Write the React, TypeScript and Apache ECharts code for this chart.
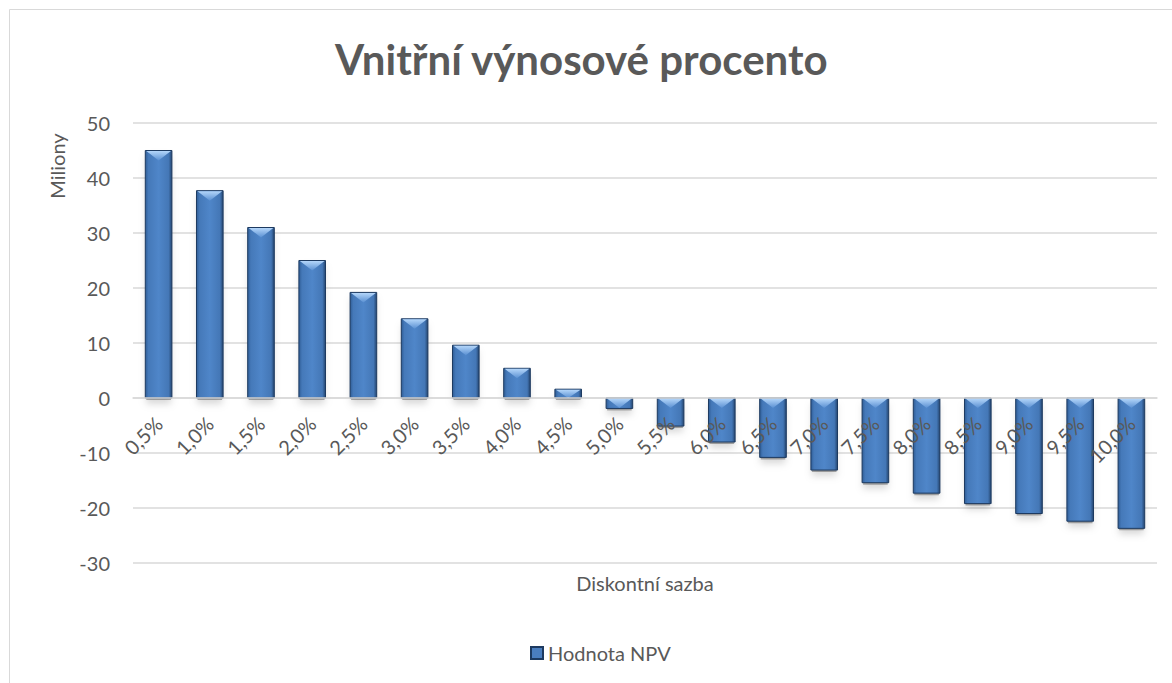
import React, { useEffect, useRef } from "react";
import * as echarts from "echarts";

const titleText = "Vnitřní výnosové procento";
const xAxisTitle = "Diskontní sazba";
const yAxisTitle = "Miliony";
const seriesName = "Hodnota NPV";

const categories = [
  "0,5%", "1,0%", "1,5%", "2,0%", "2,5%", "3,0%", "3,5%", "4,0%", "4,5%", "5,0%",
  "5,5%", "6,0%", "6,5%", "7,0%", "7,5%", "8,0%", "8,5%", "9,0%", "9,5%", "10,0%",
];
const npvValues = [
  45.0, 37.7, 31.0, 25.0, 19.2, 14.4, 9.6, 5.4, 1.6, -1.9,
  -5.1, -8.0, -10.8, -13.1, -15.4, -17.3, -19.2, -21.0, -22.4, -23.7,
];
const yMin = -30;
const yMax = 50;
const yStep = 10;

const FONT = "Lato";
const TEXT = "#595959";
const GRID = "#d9d9d9";

const GRID_TOP = 123;
const GRID_BOTTOM = 120;
const PLOT_H = 683 - GRID_TOP - GRID_BOTTOM;
// lift the category axis from the bottom edge up to the value 0 line
const zeroOffset = -PLOT_H * (0 - yMin) / (yMax - yMin);

const renderBar = (_params: any, api: any) => {
  const idx = api.value(0);
  const val = api.value(1);
  const a = api.coord([idx, 0]);
  const b = api.coord([idx, val]);
  const bw = api.size([1, 0])[0] * 0.52;
  const x = a[0] - bw / 2;
  const top = Math.min(a[1], b[1]);
  const h = Math.abs(a[1] - b[1]);
  const bev = Math.min(10, h);
  return {
    type: "group",
    children: [
      {
        type: "rect",
        silent: true,
        shape: { x: x + 1, y: top + 2, width: bw - 2, height: h },
        style: {
          fill: "rgba(0,0,0,0.3)",
          shadowBlur: 7,
          shadowColor: "rgba(0,0,0,0.5)",
          shadowOffsetY: 4,
        },
      },
      {
        type: "rect",
        shape: { x, y: top, width: bw, height: h },
        style: {
          fill: new echarts.graphic.LinearGradient(0, 0, 1, 0, [
            { offset: 0, color: "#2f5d96" },
            { offset: 0.12, color: "#4579b9" },
            { offset: 0.5, color: "#4f86c9" },
            { offset: 0.88, color: "#4477b6" },
            { offset: 1, color: "#24456f" },
          ]),
          stroke: "#1d3a60",
          lineWidth: 1,
        },
      },
      {
        type: "polygon",
        silent: true,
        shape: {
          points: [
            [x + 1, top + 0.5],
            [x + bw - 1, top + 0.5],
            [x + bw / 2, top + bev],
          ],
        },
        style: {
          fill: new echarts.graphic.LinearGradient(0, 0, 0, 1, [
            { offset: 0, color: "#b4d6fa" },
            { offset: 1, color: "#5a90d2" },
          ]),
        },
      },
    ],
  };
};

export default function App() {
  const ref = useRef<HTMLDivElement>(null);
  useEffect(() => {
    document.body.style.margin = "0";
    const chart = echarts.init(ref.current!, null, { renderer: "svg" });
    chart.setOption({
      animation: false,
      backgroundColor: "#ffffff",
      title: {
        text: titleText,
        left: 330,
        top: 33,
        textStyle: { fontFamily: FONT, fontWeight: "bold", fontSize: 42, color: TEXT },
      },
      legend: {
        left: 525,
        top: 638,
        icon: "rect",
        itemWidth: 12,
        itemHeight: 12,
        textStyle: { fontFamily: FONT, fontSize: 20, color: TEXT },
        data: [seriesName],
      },
      grid: { left: 133, right: 15, top: GRID_TOP, bottom: GRID_BOTTOM, containLabel: false },
      xAxis: {
        type: "category",
        data: categories,
        position: "bottom",
        offset: zeroOffset,
        z: 10,
        axisLine: { onZero: false, lineStyle: { color: GRID, width: 1.5 } },
        axisTick: { show: false },
        axisLabel: {
          rotate: 45,
          margin: 22,
          interval: 0,
          fontFamily: FONT,
          fontSize: 20,
          color: TEXT,
        },
      },
      yAxis: {
        type: "value",
        min: yMin,
        max: yMax,
        interval: yStep,
        axisLine: { show: false },
        axisTick: { show: false },
        axisLabel: { margin: 23, fontFamily: FONT, fontSize: 20, color: TEXT },
        splitLine: { lineStyle: { color: GRID, width: 1.5 } },
      },
      graphic: [
        {
          type: "rect",
          silent: true,
          z: -10,
          shape: { x: 9.5, y: 9.5, width: 1300, height: 800 },
          style: { fill: "none", stroke: GRID, lineWidth: 1 },
        },
        {
          type: "text",
          x: 57,
          y: 166,
          rotation: Math.PI / 2,
          style: {
            text: yAxisTitle,
            fill: TEXT,
            font: `20px ${FONT}`,
            align: "center",
            verticalAlign: "middle",
          },
        },
        {
          type: "text",
          x: 645,
          y: 583,
          style: {
            text: xAxisTitle,
            fill: TEXT,
            font: `20px ${FONT}`,
            align: "center",
            verticalAlign: "middle",
          },
        },
      ],
      series: [
        {
          name: seriesName,
          type: "custom",
          renderItem: renderBar,
          z: 1,
          itemStyle: { color: "#4a7ebf", borderColor: "#1d3a60", borderWidth: 1 },
          encode: { x: 0, y: 1 },
          data: npvValues.map((v, i) => [i, v]),
        },
      ],
    });
    return () => chart.dispose();
  }, []);
  return <div ref={ref} style={{ width: 1172, height: 683 }} />;
}
